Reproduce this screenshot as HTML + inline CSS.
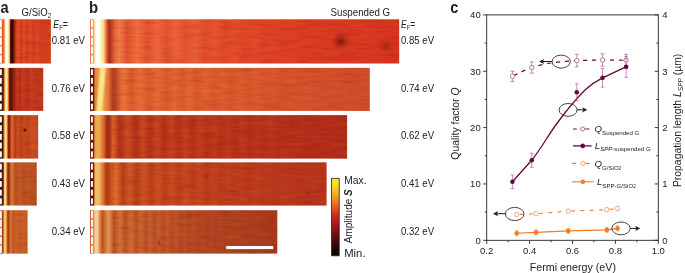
<!DOCTYPE html>
<html lang="en"><head><meta charset="utf-8"><title>Figure</title>
<style>html,body{margin:0;padding:0;background:#fff;}body{width:685px;height:273px;overflow:hidden;}svg{display:block;}text{font-family:"Liberation Sans",sans-serif;fill:#222;}</style></head><body>
<svg width="685" height="273" viewBox="0 0 685 273">
<defs><linearGradient id="ga0" gradientUnits="userSpaceOnUse" x1="0" y1="0" x2="50.9" y2="0"><stop offset="0.0000" stop-color="#ea5c2e"/><stop offset="0.0747" stop-color="#ea6030"/><stop offset="0.0904" stop-color="#f6b070"/><stop offset="0.1061" stop-color="#fdf0c0"/><stop offset="0.1257" stop-color="#fffef6"/><stop offset="0.1532" stop-color="#fffbe6"/><stop offset="0.1729" stop-color="#f8e088"/><stop offset="0.1866" stop-color="#f0a040"/><stop offset="0.1984" stop-color="#a03a12"/><stop offset="0.2122" stop-color="#3a0803"/><stop offset="0.2475" stop-color="#300602"/><stop offset="0.2672" stop-color="#6a1208"/><stop offset="0.2908" stop-color="#b02814"/><stop offset="0.3183" stop-color="#d23c1e"/><stop offset="0.3536" stop-color="#e25228"/><stop offset="0.4126" stop-color="#d03a1e"/><stop offset="0.4715" stop-color="#de4c26"/><stop offset="0.5305" stop-color="#d03a1e"/><stop offset="0.5894" stop-color="#dc4a24"/><stop offset="0.6582" stop-color="#d23c1f"/><stop offset="0.7269" stop-color="#da4623"/><stop offset="0.8055" stop-color="#d23c1f"/><stop offset="1.0020" stop-color="#d5401f"/></linearGradient><linearGradient id="ga1" gradientUnits="userSpaceOnUse" x1="0" y1="0" x2="43.25" y2="0"><stop offset="0.0000" stop-color="#4a1408"/><stop offset="0.0740" stop-color="#501608"/><stop offset="0.0925" stop-color="#b85a22"/><stop offset="0.1110" stop-color="#f2ac48"/><stop offset="0.1295" stop-color="#ffe288"/><stop offset="0.1480" stop-color="#fff0b8"/><stop offset="0.1665" stop-color="#ffe080"/><stop offset="0.1850" stop-color="#f2a040"/><stop offset="0.2035" stop-color="#c45a1e"/><stop offset="0.2197" stop-color="#6a160a"/><stop offset="0.2682" stop-color="#5a1208"/><stop offset="0.3006" stop-color="#8a1e0e"/><stop offset="0.3468" stop-color="#a82a14"/><stop offset="0.4046" stop-color="#c4381c"/><stop offset="0.4624" stop-color="#b42e18"/><stop offset="0.5318" stop-color="#c83c1e"/><stop offset="0.6243" stop-color="#b83019"/><stop offset="0.7168" stop-color="#c63a1d"/><stop offset="0.8324" stop-color="#bc341a"/><stop offset="0.9988" stop-color="#c2381c"/></linearGradient><linearGradient id="ga2" gradientUnits="userSpaceOnUse" x1="0" y1="0" x2="38.15" y2="0"><stop offset="0.0000" stop-color="#4a1408"/><stop offset="0.0786" stop-color="#501608"/><stop offset="0.0996" stop-color="#b86a2c"/><stop offset="0.1206" stop-color="#f2bc64"/><stop offset="0.1415" stop-color="#fbe0a0"/><stop offset="0.1678" stop-color="#f8d080"/><stop offset="0.1940" stop-color="#e07a28"/><stop offset="0.2202" stop-color="#8a1c0c"/><stop offset="0.2621" stop-color="#9a240e"/><stop offset="0.2988" stop-color="#d86a2a"/><stop offset="0.3408" stop-color="#d05a24"/><stop offset="0.3932" stop-color="#b83a18"/><stop offset="0.4718" stop-color="#cc5222"/><stop offset="0.5505" stop-color="#bc3e1a"/><stop offset="0.6291" stop-color="#c84c20"/><stop offset="0.7339" stop-color="#c04419"/><stop offset="0.8388" stop-color="#ca5022"/><stop offset="0.9961" stop-color="#c4481e"/></linearGradient><linearGradient id="ga3" gradientUnits="userSpaceOnUse" x1="0" y1="0" x2="36.75" y2="0"><stop offset="0.0000" stop-color="#4a1408"/><stop offset="0.0816" stop-color="#501608"/><stop offset="0.1034" stop-color="#a8602a"/><stop offset="0.1224" stop-color="#f0c890"/><stop offset="0.1524" stop-color="#f8e0b0"/><stop offset="0.1741" stop-color="#e89a48"/><stop offset="0.2014" stop-color="#b04a18"/><stop offset="0.2340" stop-color="#8a2a10"/><stop offset="0.2721" stop-color="#b85020"/><stop offset="0.3265" stop-color="#dc8238"/><stop offset="0.3673" stop-color="#c46228"/><stop offset="0.4354" stop-color="#b84e22"/><stop offset="0.5170" stop-color="#c25a26"/><stop offset="0.6259" stop-color="#b85022"/><stop offset="0.7619" stop-color="#be5626"/><stop offset="1.0041" stop-color="#b64e22"/></linearGradient><linearGradient id="ga4" gradientUnits="userSpaceOnUse" x1="0" y1="0" x2="27.6" y2="0"><stop offset="0.0000" stop-color="#b03a18"/><stop offset="0.1087" stop-color="#b84018"/><stop offset="0.1377" stop-color="#d88a40"/><stop offset="0.1667" stop-color="#f4cc80"/><stop offset="0.2101" stop-color="#f0c070"/><stop offset="0.2391" stop-color="#e08a38"/><stop offset="0.2754" stop-color="#b84a1c"/><stop offset="0.3261" stop-color="#a83c18"/><stop offset="0.3804" stop-color="#d47a34"/><stop offset="0.4348" stop-color="#c86028"/><stop offset="0.5072" stop-color="#c0541f"/><stop offset="0.5797" stop-color="#cc662a"/><stop offset="0.6884" stop-color="#c45a24"/><stop offset="0.8333" stop-color="#ca6228"/><stop offset="1.0000" stop-color="#c45a24"/></linearGradient><linearGradient id="gb0" gradientUnits="userSpaceOnUse" x1="90.0" y1="0" x2="399.2" y2="0"><stop offset="0.0000" stop-color="#ec6a34"/><stop offset="0.0097" stop-color="#f09050"/><stop offset="0.0129" stop-color="#f6b878"/><stop offset="0.0155" stop-color="#fbe4b4"/><stop offset="0.0188" stop-color="#fffdf4"/><stop offset="0.0259" stop-color="#ffffff"/><stop offset="0.0317" stop-color="#fffde8"/><stop offset="0.0362" stop-color="#fbf4b4"/><stop offset="0.0420" stop-color="#f8e69a"/><stop offset="0.0466" stop-color="#f6b868"/><stop offset="0.0517" stop-color="#ea7a40"/><stop offset="0.0569" stop-color="#c4442a"/><stop offset="0.0608" stop-color="#b2321c"/><stop offset="0.0666" stop-color="#b4341e"/><stop offset="0.0724" stop-color="#cc4c2a"/><stop offset="0.0783" stop-color="#e2603a"/><stop offset="0.0841" stop-color="#ea6e40"/><stop offset="0.0951" stop-color="#f27e48"/><stop offset="0.1197" stop-color="#df512e"/><stop offset="0.1530" stop-color="#f06e3f"/><stop offset="0.1863" stop-color="#e2522e"/><stop offset="0.2170" stop-color="#ee683b"/><stop offset="0.2477" stop-color="#e3522e"/><stop offset="0.2775" stop-color="#ec6438"/><stop offset="0.3072" stop-color="#e3512d"/><stop offset="0.3396" stop-color="#e95d34"/><stop offset="0.3719" stop-color="#e24c2b"/><stop offset="0.4035" stop-color="#e65530"/><stop offset="0.4350" stop-color="#e04728"/><stop offset="0.4665" stop-color="#e34e2c"/><stop offset="0.4981" stop-color="#de4326"/><stop offset="0.5296" stop-color="#e14829"/><stop offset="0.5611" stop-color="#dd4024"/><stop offset="0.5927" stop-color="#df4326"/><stop offset="0.6242" stop-color="#dc3d23"/><stop offset="0.6557" stop-color="#dd4024"/><stop offset="0.6873" stop-color="#db3b22"/><stop offset="1.0000" stop-color="#d63420"/></linearGradient><linearGradient id="gb1" gradientUnits="userSpaceOnUse" x1="90.0" y1="0" x2="369.8" y2="0"><stop offset="0.0000" stop-color="#4a1008"/><stop offset="0.0122" stop-color="#5a1609"/><stop offset="0.0150" stop-color="#b85426"/><stop offset="0.0197" stop-color="#e4803a"/><stop offset="0.0268" stop-color="#ec9444"/><stop offset="0.0340" stop-color="#f0a850"/><stop offset="0.0393" stop-color="#f2b458"/><stop offset="0.0465" stop-color="#f0a850"/><stop offset="0.0554" stop-color="#e88840"/><stop offset="0.0661" stop-color="#e07434"/><stop offset="0.0736" stop-color="#c85628"/><stop offset="0.0801" stop-color="#b44422"/><stop offset="0.0879" stop-color="#b04020"/><stop offset="0.0965" stop-color="#c45026"/><stop offset="0.1090" stop-color="#e06832"/><stop offset="0.1215" stop-color="#ea763c"/><stop offset="0.1465" stop-color="#d85a2a"/><stop offset="0.1780" stop-color="#e66f37"/><stop offset="0.2094" stop-color="#da5a2a"/><stop offset="0.2416" stop-color="#e46b36"/><stop offset="0.2738" stop-color="#da5a2a"/><stop offset="0.3013" stop-color="#e36933"/><stop offset="0.3288" stop-color="#da5a2b"/><stop offset="0.3556" stop-color="#e26532"/><stop offset="0.3824" stop-color="#da592a"/><stop offset="0.4128" stop-color="#e06231"/><stop offset="0.4432" stop-color="#da582b"/><stop offset="0.4736" stop-color="#df5f2f"/><stop offset="0.5039" stop-color="#d9562a"/><stop offset="0.5343" stop-color="#dc5d2e"/><stop offset="0.5647" stop-color="#d7552a"/><stop offset="0.5951" stop-color="#da5a2e"/><stop offset="0.6254" stop-color="#d75329"/><stop offset="0.6558" stop-color="#d9572c"/><stop offset="0.6862" stop-color="#d55129"/><stop offset="0.7166" stop-color="#d7552c"/><stop offset="0.7470" stop-color="#d4512a"/><stop offset="0.7773" stop-color="#d5532c"/><stop offset="0.8077" stop-color="#d3502a"/><stop offset="0.9993" stop-color="#d04c2a"/></linearGradient><linearGradient id="gb2" gradientUnits="userSpaceOnUse" x1="90.0" y1="0" x2="347.1" y2="0"><stop offset="0.0000" stop-color="#5a160a"/><stop offset="0.0132" stop-color="#6a1a0c"/><stop offset="0.0163" stop-color="#c86028"/><stop offset="0.0210" stop-color="#eca048"/><stop offset="0.0292" stop-color="#f0b050"/><stop offset="0.0389" stop-color="#eca048"/><stop offset="0.0482" stop-color="#e07e32"/><stop offset="0.0568" stop-color="#cc5824"/><stop offset="0.0638" stop-color="#aa3016"/><stop offset="0.0723" stop-color="#a02a14"/><stop offset="0.0793" stop-color="#b43a1a"/><stop offset="0.0887" stop-color="#d86428"/><stop offset="0.1151" stop-color="#af2e17"/><stop offset="0.1470" stop-color="#ca4c22"/><stop offset="0.1789" stop-color="#b22f17"/><stop offset="0.2058" stop-color="#c74720"/><stop offset="0.2326" stop-color="#b33018"/><stop offset="0.2606" stop-color="#c54420"/><stop offset="0.2886" stop-color="#b43018"/><stop offset="0.3162" stop-color="#c4411e"/><stop offset="0.3438" stop-color="#b53018"/><stop offset="0.3715" stop-color="#c23e1d"/><stop offset="0.3991" stop-color="#b53018"/><stop offset="0.4267" stop-color="#c03c1d"/><stop offset="0.4543" stop-color="#b53019"/><stop offset="0.4819" stop-color="#be391c"/><stop offset="0.5095" stop-color="#b53019"/><stop offset="0.5371" stop-color="#bc381c"/><stop offset="0.5648" stop-color="#b52f19"/><stop offset="0.5924" stop-color="#ba361c"/><stop offset="0.6200" stop-color="#b42f19"/><stop offset="0.6476" stop-color="#b9351b"/><stop offset="0.6752" stop-color="#b42f19"/><stop offset="0.7028" stop-color="#b9341b"/><stop offset="0.7305" stop-color="#b32e19"/><stop offset="0.7581" stop-color="#b7321b"/><stop offset="0.7857" stop-color="#b42e19"/><stop offset="0.8133" stop-color="#b6311b"/><stop offset="0.8409" stop-color="#b32d1a"/><stop offset="1.0016" stop-color="#b22c1a"/></linearGradient><linearGradient id="gb3" gradientUnits="userSpaceOnUse" x1="90.0" y1="0" x2="326.6" y2="0"><stop offset="0.0000" stop-color="#4a1008"/><stop offset="0.0144" stop-color="#5a1609"/><stop offset="0.0178" stop-color="#c87034"/><stop offset="0.0220" stop-color="#f0b060"/><stop offset="0.0317" stop-color="#f4c070"/><stop offset="0.0423" stop-color="#eeac58"/><stop offset="0.0490" stop-color="#e2903e"/><stop offset="0.0558" stop-color="#da7630"/><stop offset="0.0626" stop-color="#c4521f"/><stop offset="0.0697" stop-color="#b03c18"/><stop offset="0.0786" stop-color="#b44018"/><stop offset="0.0909" stop-color="#c8541f"/><stop offset="0.1099" stop-color="#da6e2e"/><stop offset="0.1378" stop-color="#b93d1a"/><stop offset="0.1672" stop-color="#cf5926"/><stop offset="0.1965" stop-color="#bb3d1a"/><stop offset="0.2280" stop-color="#cc5424"/><stop offset="0.2595" stop-color="#bc3d1b"/><stop offset="0.2876" stop-color="#ca5023"/><stop offset="0.3157" stop-color="#bc3d1a"/><stop offset="0.3453" stop-color="#c74c21"/><stop offset="0.3749" stop-color="#bc3c1b"/><stop offset="0.4045" stop-color="#c64820"/><stop offset="0.4341" stop-color="#bc3b1b"/><stop offset="0.4637" stop-color="#c4461f"/><stop offset="0.4932" stop-color="#bc3b1b"/><stop offset="0.5228" stop-color="#c1421f"/><stop offset="0.5524" stop-color="#bb3a1b"/><stop offset="0.5820" stop-color="#c0401e"/><stop offset="0.6116" stop-color="#ba391b"/><stop offset="0.6412" stop-color="#be3e1e"/><stop offset="0.6708" stop-color="#ba381c"/><stop offset="0.7003" stop-color="#bd3c1e"/><stop offset="0.7299" stop-color="#b9381c"/><stop offset="0.7595" stop-color="#bb3b1d"/><stop offset="0.7891" stop-color="#b8371c"/><stop offset="0.8187" stop-color="#bb3a1d"/><stop offset="0.8483" stop-color="#b7361c"/><stop offset="1.0000" stop-color="#b6341c"/></linearGradient><linearGradient id="gb4" gradientUnits="userSpaceOnUse" x1="90.0" y1="0" x2="277.3" y2="0"><stop offset="0.0000" stop-color="#c04a20"/><stop offset="0.0160" stop-color="#cc6a34"/><stop offset="0.0214" stop-color="#e8a868"/><stop offset="0.0294" stop-color="#f4d0a0"/><stop offset="0.0400" stop-color="#f4cc98"/><stop offset="0.0481" stop-color="#e8a060"/><stop offset="0.0566" stop-color="#d4743a"/><stop offset="0.0662" stop-color="#bc5022"/><stop offset="0.0801" stop-color="#cc7034"/><stop offset="0.0988" stop-color="#e09450"/><stop offset="0.1297" stop-color="#b85023"/><stop offset="0.1596" stop-color="#d1733b"/><stop offset="0.1895" stop-color="#b95023"/><stop offset="0.2184" stop-color="#cd6b36"/><stop offset="0.2472" stop-color="#ba5024"/><stop offset="0.2731" stop-color="#ca6532"/><stop offset="0.2990" stop-color="#ba4f24"/><stop offset="0.3209" stop-color="#c66030"/><stop offset="0.3428" stop-color="#b94e23"/><stop offset="0.3663" stop-color="#c35c2d"/><stop offset="0.3897" stop-color="#b74c22"/><stop offset="0.4132" stop-color="#bf572b"/><stop offset="0.4367" stop-color="#b64b22"/><stop offset="0.4602" stop-color="#bd5429"/><stop offset="0.4837" stop-color="#b44821"/><stop offset="0.5072" stop-color="#b95027"/><stop offset="0.5307" stop-color="#b24620"/><stop offset="0.5542" stop-color="#b64c25"/><stop offset="0.5777" stop-color="#b0451f"/><stop offset="0.6012" stop-color="#b44923"/><stop offset="0.6247" stop-color="#af4320"/><stop offset="0.6482" stop-color="#b24722"/><stop offset="0.6716" stop-color="#ae421f"/><stop offset="0.6951" stop-color="#b04521"/><stop offset="0.7186" stop-color="#ad411f"/><stop offset="0.7421" stop-color="#ae4320"/><stop offset="0.7656" stop-color="#ac401e"/><stop offset="0.7891" stop-color="#ad4220"/><stop offset="0.8126" stop-color="#ab3f1e"/><stop offset="1.0000" stop-color="#a63a1c"/></linearGradient><linearGradient id="yb" gradientUnits="userSpaceOnUse" x1="99" y1="0" x2="108" y2="0"><stop offset="0" stop-color="#f6dc78" stop-opacity="0"/><stop offset="0.28" stop-color="#f8e888" stop-opacity="0.95"/><stop offset="0.62" stop-color="#f8e888" stop-opacity="0.95"/><stop offset="1" stop-color="#f0b050" stop-opacity="0"/></linearGradient><clipPath id="rowsclip"><rect x="15" y="19.3" width="35.9" height="44.2"/><rect x="112.0" y="19.3" width="287.2" height="44.2"/><rect x="15" y="67.9" width="28.2" height="43.0"/><rect x="112.0" y="67.9" width="257.8" height="43.0"/><rect x="15" y="115.1" width="23.1" height="43.5"/><rect x="112.0" y="115.1" width="235.1" height="43.5"/><rect x="15" y="162.35" width="21.8" height="43.2"/><rect x="112.0" y="162.35" width="214.6" height="43.2"/><rect x="15" y="210.2" width="12.6" height="43.4"/><rect x="112.0" y="210.2" width="165.3" height="43.4"/></clipPath><filter id="nzd" x="0" y="0" width="100%" height="100%" color-interpolation-filters="sRGB"><feTurbulence type="fractalNoise" baseFrequency="0.05 0.3" numOctaves="2" seed="7"/><feColorMatrix type="matrix" values="0 0 0 0 0.45  0 0 0 0 0.06  0 0 0 0 0.02  1.6 0 0 0 -0.72"/></filter><filter id="nzl" x="0" y="0" width="100%" height="100%" color-interpolation-filters="sRGB"><feTurbulence type="fractalNoise" baseFrequency="0.04 0.28" numOctaves="2" seed="21"/><feColorMatrix type="matrix" values="0 0 0 0 0.98  0 0 0 0 0.5  0 0 0 0 0.25  0 1.5 0 0 -0.68"/></filter><radialGradient id="spot"><stop offset="0" stop-color="#7c140a" stop-opacity="0.9"/><stop offset="0.4" stop-color="#8c1a0c" stop-opacity="0.55"/><stop offset="1" stop-color="#a02010" stop-opacity="0"/></radialGradient><linearGradient id="cb" x1="0" y1="0" x2="0" y2="1"><stop offset="0" stop-color="#f7ec2c"/><stop offset="0.08" stop-color="#f6de24"/><stop offset="0.2" stop-color="#f2ae20"/><stop offset="0.33" stop-color="#e87420"/><stop offset="0.47" stop-color="#d02c20"/><stop offset="0.62" stop-color="#9c1616"/><stop offset="0.8" stop-color="#4c0c0c"/><stop offset="0.93" stop-color="#180606"/><stop offset="1" stop-color="#0a0404"/></linearGradient></defs>
<rect x="0" y="19.3" width="50.9" height="44.2" fill="url(#ga0)"/>
<rect x="0" y="67.9" width="43.25" height="43.0" fill="url(#ga1)"/>
<rect x="0" y="115.1" width="38.15" height="43.5" fill="url(#ga2)"/>
<rect x="0" y="162.35" width="36.75" height="43.2" fill="url(#ga3)"/>
<rect x="0" y="210.2" width="27.6" height="43.4" fill="url(#ga4)"/>
<rect x="90.0" y="19.3" width="309.2" height="44.2" fill="url(#gb0)"/>
<rect x="90.0" y="67.9" width="279.8" height="43.0" fill="url(#gb1)"/>
<rect x="90.0" y="115.1" width="257.1" height="43.5" fill="url(#gb2)"/>
<rect x="90.0" y="162.35" width="236.6" height="43.2" fill="url(#gb3)"/>
<rect x="90.0" y="210.2" width="187.3" height="43.4" fill="url(#gb4)"/>
<g transform="translate(0,67.9) skewX(-5.2)"><rect x="99" y="0" width="9" height="43.0" fill="url(#yb)"/></g>
<g clip-path="url(#rowsclip)"><rect x="0" y="15" width="402" height="242" filter="url(#nzd)" opacity="0.26"/><rect x="0" y="15" width="402" height="242" filter="url(#nzl)" opacity="0.22"/></g>
<rect x="0" y="19.90" width="1.8" height="43.00" fill="#ffffff"/><rect x="0" y="27.44" width="1.8" height="1.4" fill="#f07a48"/><rect x="0" y="36.28" width="1.8" height="1.4" fill="#f07a48"/><rect x="0" y="45.12" width="1.8" height="1.4" fill="#f07a48"/><rect x="0" y="53.96" width="1.8" height="1.4" fill="#f07a48"/>
<rect x="90.9" y="19.90" width="2.0" height="43.00" fill="#ffffff"/><rect x="90.9" y="27.44" width="2.0" height="1.4" fill="#f07a48"/><rect x="90.9" y="36.28" width="2.0" height="1.4" fill="#f07a48"/><rect x="90.9" y="45.12" width="2.0" height="1.4" fill="#f07a48"/><rect x="90.9" y="53.96" width="2.0" height="1.4" fill="#f07a48"/>
<rect x="0" y="69.28" width="1.8" height="5.85" fill="#ffffff"/><rect x="0" y="77.88" width="1.8" height="5.85" fill="#ffffff"/><rect x="0" y="86.48" width="1.8" height="5.85" fill="#ffffff"/><rect x="0" y="95.08" width="1.8" height="5.85" fill="#ffffff"/><rect x="0" y="103.68" width="1.8" height="5.85" fill="#ffffff"/>
<rect x="90.9" y="69.28" width="2.0" height="5.85" fill="#ffffff"/><rect x="90.9" y="77.88" width="2.0" height="5.85" fill="#ffffff"/><rect x="90.9" y="86.48" width="2.0" height="5.85" fill="#ffffff"/><rect x="90.9" y="95.08" width="2.0" height="5.85" fill="#ffffff"/><rect x="90.9" y="103.68" width="2.0" height="5.85" fill="#ffffff"/>
<rect x="0" y="116.49" width="1.8" height="5.92" fill="#ffffff"/><rect x="0" y="125.19" width="1.8" height="5.92" fill="#ffffff"/><rect x="0" y="133.89" width="1.8" height="5.92" fill="#ffffff"/><rect x="0" y="142.59" width="1.8" height="5.92" fill="#ffffff"/><rect x="0" y="151.29" width="1.8" height="5.92" fill="#ffffff"/>
<rect x="90.9" y="116.49" width="2.0" height="5.92" fill="#ffffff"/><rect x="90.9" y="125.19" width="2.0" height="5.92" fill="#ffffff"/><rect x="90.9" y="133.89" width="2.0" height="5.92" fill="#ffffff"/><rect x="90.9" y="142.59" width="2.0" height="5.92" fill="#ffffff"/><rect x="90.9" y="151.29" width="2.0" height="5.92" fill="#ffffff"/>
<rect x="0" y="163.73" width="1.8" height="5.88" fill="#ffffff"/><rect x="0" y="172.38" width="1.8" height="5.88" fill="#ffffff"/><rect x="0" y="181.03" width="1.8" height="5.88" fill="#ffffff"/><rect x="0" y="189.68" width="1.8" height="5.88" fill="#ffffff"/><rect x="0" y="198.33" width="1.8" height="5.88" fill="#ffffff"/>
<rect x="90.9" y="163.73" width="2.0" height="5.88" fill="#ffffff"/><rect x="90.9" y="172.38" width="2.0" height="5.88" fill="#ffffff"/><rect x="90.9" y="181.03" width="2.0" height="5.88" fill="#ffffff"/><rect x="90.9" y="189.68" width="2.0" height="5.88" fill="#ffffff"/><rect x="90.9" y="198.33" width="2.0" height="5.88" fill="#ffffff"/>
<rect x="0" y="210.80" width="1.8" height="42.20" fill="#ffffff"/><rect x="0" y="218.18" width="1.8" height="1.4" fill="#cc6a38"/><rect x="0" y="226.86" width="1.8" height="1.4" fill="#cc6a38"/><rect x="0" y="235.54" width="1.8" height="1.4" fill="#cc6a38"/><rect x="0" y="244.22" width="1.8" height="1.4" fill="#cc6a38"/>
<rect x="90.9" y="210.80" width="2.0" height="42.20" fill="#ffffff"/><rect x="90.9" y="218.18" width="2.0" height="1.4" fill="#cc6a38"/><rect x="90.9" y="226.86" width="2.0" height="1.4" fill="#cc6a38"/><rect x="90.9" y="235.54" width="2.0" height="1.4" fill="#cc6a38"/><rect x="90.9" y="244.22" width="2.0" height="1.4" fill="#cc6a38"/>
<ellipse cx="340.5" cy="41.5" rx="9.5" ry="9.5" fill="url(#spot)"/>
<ellipse cx="385.5" cy="45.5" rx="8.5" ry="7.5" fill="url(#spot)" opacity="0.5"/>
<ellipse cx="25" cy="130" rx="1.6" ry="1.4" fill="#3a0a04" opacity="0.8"/>
<ellipse cx="159" cy="243" rx="3" ry="4" fill="url(#spot)" opacity="0.6"/>
<ellipse cx="206" cy="177" rx="3.2" ry="3.8" fill="url(#spot)" opacity="0.5"/>
<ellipse cx="308" cy="193" rx="3.5" ry="3" fill="url(#spot)" opacity="0.35"/>
<rect x="226.2" y="246" width="47" height="3.1" fill="#ffffff"/>
<rect x="331.6" y="178.3" width="7.6" height="77.5" fill="url(#cb)" stroke="#222" stroke-width="0.8"/>
<text transform="translate(0.6,12.8) scale(0.86,1)" font-size="17" font-weight="bold" fill="#111">a</text>
<text transform="translate(88.9,12.6) scale(0.88,1)" font-size="17" font-weight="bold" fill="#111">b</text>
<text transform="translate(450.2,12.8) scale(0.86,1)" font-size="17" font-weight="bold" fill="#111">c</text>
<text transform="translate(21.5,15.9) scale(0.96,1)" font-size="10" >G/SiO<tspan font-size="6.8" dy="2.2">2</tspan></text>
<text transform="translate(330.6,15.9) scale(0.975,1)" font-size="10" >Suspended G</text>
<text transform="translate(53.3,27.9) scale(0.88,1)" font-size="10" ><tspan font-style="italic">E</tspan><tspan font-size="6.8" dy="2.3">F</tspan><tspan dy="-2.3">=</tspan></text>
<text transform="translate(400.9,27.9) scale(0.86,1)" font-size="10" ><tspan font-style="italic">E</tspan><tspan font-size="6.8" dy="2.3">F</tspan><tspan dy="-2.3">=</tspan></text>
<text transform="translate(51.8,44.1) scale(0.965,1)" font-size="10" >0.81 eV</text>
<text transform="translate(51.8,91.5) scale(0.965,1)" font-size="10" >0.76 eV</text>
<text transform="translate(51.8,139.0) scale(0.965,1)" font-size="10" >0.58 eV</text>
<text transform="translate(51.8,186.9) scale(0.965,1)" font-size="10" >0.43 eV</text>
<text transform="translate(51.8,234.5) scale(0.965,1)" font-size="10" >0.34 eV</text>
<text transform="translate(400.9,44.1) scale(0.965,1)" font-size="10" >0.85 eV</text>
<text transform="translate(400.9,91.5) scale(0.965,1)" font-size="10" >0.74 eV</text>
<text transform="translate(400.9,139.0) scale(0.965,1)" font-size="10" >0.62 eV</text>
<text transform="translate(400.9,186.9) scale(0.965,1)" font-size="10" >0.41 eV</text>
<text transform="translate(400.9,234.5) scale(0.965,1)" font-size="10" >0.32 eV</text>
<text transform="translate(344.2,184.4) scale(1.03,1)" font-size="10" >Max.</text>
<text transform="translate(344.2,256.6) scale(1.13,1)" font-size="10" >Min.</text>
<text transform="translate(352,243.2) rotate(-90)" font-size="10">Amplitude <tspan font-style="italic" font-weight="bold">S</tspan></text>
<rect x="486.7" y="14.9" width="171.59999999999997" height="225.4" fill="none" stroke="#222" stroke-width="0.9"/>
<path d="M483.09999999999997,240.30H486.7M658.3,240.30h-3.6" stroke="#222" stroke-width="0.9"/>
<path d="M484.7,212.12H486.7M658.3,212.12h-2" stroke="#222" stroke-width="0.9"/>
<path d="M483.09999999999997,183.95H486.7M658.3,183.95h-3.6" stroke="#222" stroke-width="0.9"/>
<path d="M484.7,155.78H486.7M658.3,155.78h-2" stroke="#222" stroke-width="0.9"/>
<path d="M483.09999999999997,127.60H486.7M658.3,127.60h-3.6" stroke="#222" stroke-width="0.9"/>
<path d="M484.7,99.43H486.7M658.3,99.43h-2" stroke="#222" stroke-width="0.9"/>
<path d="M483.09999999999997,71.25H486.7M658.3,71.25h-3.6" stroke="#222" stroke-width="0.9"/>
<path d="M484.7,43.08H486.7M658.3,43.08h-2" stroke="#222" stroke-width="0.9"/>
<path d="M483.09999999999997,14.90H486.7M658.3,14.90h-3.6" stroke="#222" stroke-width="0.9"/>
<path d="M486.70,240.3v3.6" stroke="#222" stroke-width="0.9"/>
<path d="M508.15,240.3v2" stroke="#222" stroke-width="0.9"/>
<path d="M529.60,240.3v3.6" stroke="#222" stroke-width="0.9"/>
<path d="M551.05,240.3v2" stroke="#222" stroke-width="0.9"/>
<path d="M572.50,240.3v3.6" stroke="#222" stroke-width="0.9"/>
<path d="M593.95,240.3v2" stroke="#222" stroke-width="0.9"/>
<path d="M615.40,240.3v3.6" stroke="#222" stroke-width="0.9"/>
<path d="M636.85,240.3v2" stroke="#222" stroke-width="0.9"/>
<path d="M658.30,240.3v3.6" stroke="#222" stroke-width="0.9"/>
<text x="480.7" y="243.7" font-size="9.5" text-anchor="end">0</text>
<text x="662.1999999999999" y="243.7" font-size="9.5">0</text>
<text x="480.7" y="187.4" font-size="9.5" text-anchor="end">10</text>
<text x="662.1999999999999" y="187.4" font-size="9.5">1</text>
<text x="480.7" y="131.0" font-size="9.5" text-anchor="end">20</text>
<text x="662.1999999999999" y="131.0" font-size="9.5">2</text>
<text x="480.7" y="74.7" font-size="9.5" text-anchor="end">30</text>
<text x="662.1999999999999" y="74.7" font-size="9.5">3</text>
<text x="480.7" y="18.3" font-size="9.5" text-anchor="end">40</text>
<text x="662.1999999999999" y="18.3" font-size="9.5">4</text>
<text x="486.7" y="253.9" font-size="9.5" text-anchor="middle">0.2</text>
<text x="529.6" y="253.9" font-size="9.5" text-anchor="middle">0.4</text>
<text x="572.5" y="253.9" font-size="9.5" text-anchor="middle">0.6</text>
<text x="615.4" y="253.9" font-size="9.5" text-anchor="middle">0.8</text>
<text x="658.3" y="253.9" font-size="9.5" text-anchor="middle">1.0</text>
<text x="572.9" y="270.5" font-size="10.7" text-anchor="middle">Fermi energy (eV)</text>
<text transform="translate(458.6,123.6) rotate(-90)" font-size="10.4" text-anchor="middle">Quality factor <tspan font-style="italic">Q</tspan></text>
<text transform="translate(681,120.4) rotate(-90)" font-size="10.4" text-anchor="middle">Propagation length <tspan font-style="italic">L</tspan><tspan font-size="6.5" font-style="italic" dy="2">SPP</tspan><tspan dy="-2"> (µm)</tspan></text>
<path d="M512.4,76.3 C520.4,72.3 523.7,70.7 531.7,67.5 C545.7,63.0 560.8,61.5 576.8,60.5 L602.5,60.0 L626.1,60.3" fill="none" stroke="#66093f" stroke-width="1.2" stroke-dasharray="4.2,4.8" stroke-dashoffset="7.86"/>
<path d="M512.44,71.25V81.40M510.44,71.25h4.0M510.44,81.40h4.0" stroke="#a04684" stroke-width="0.6" fill="none"/>
<circle cx="512.44" cy="76.32" r="2.2" fill="#fff" stroke="#a04684" stroke-width="0.7"/>
<path d="M531.75,61.89V73.17M529.75,61.89h4.0M529.75,73.17h4.0" stroke="#a04684" stroke-width="0.6" fill="none"/>
<circle cx="531.75" cy="67.53" r="2.2" fill="#fff" stroke="#a04684" stroke-width="0.7"/>
<path d="M576.79,54.34V66.75M574.79,54.34h4.0M574.79,66.75h4.0" stroke="#a04684" stroke-width="0.6" fill="none"/>
<circle cx="576.79" cy="60.54" r="2.2" fill="#fff" stroke="#a04684" stroke-width="0.7"/>
<path d="M602.53,53.78V66.18M600.53,53.78h4.0M600.53,66.18h4.0" stroke="#a04684" stroke-width="0.6" fill="none"/>
<circle cx="602.53" cy="59.98" r="2.2" fill="#fff" stroke="#a04684" stroke-width="0.7"/>
<path d="M626.12,54.34V66.18M624.12,54.34h4.0M624.12,66.18h4.0" stroke="#a04684" stroke-width="0.6" fill="none"/>
<circle cx="626.12" cy="60.26" r="2.2" fill="#fff" stroke="#a04684" stroke-width="0.7"/>
<path d="M512.4,181.8 L531.7,160.3 C541.7,147.8 548,135.5 555.8,125 C563,115 576,99 585,90 C592,83.5 597,80.5 602.5,77.8 C611,74 618,70.5 626.1,66.9" fill="none" stroke="#66093f" stroke-width="1.3"/>
<path d="M512.44,174.98V188.52M510.64,174.98h3.6M510.64,188.52h3.6" stroke="#a04684" stroke-width="0.6" fill="none"/>
<circle cx="512.44" cy="181.75" r="2.3" fill="#66093f"/>
<path d="M531.75,153.23V167.33M529.95,153.23h3.6M529.95,167.33h3.6" stroke="#a04684" stroke-width="0.6" fill="none"/>
<circle cx="531.75" cy="160.28" r="2.3" fill="#66093f"/>
<path d="M576.79,83.75V100.67M574.99,83.75h3.6M574.99,100.67h3.6" stroke="#a04684" stroke-width="0.6" fill="none"/>
<circle cx="576.79" cy="92.21" r="2.3" fill="#66093f"/>
<path d="M602.53,68.54V87.15M600.73,68.54h3.6M600.73,87.15h3.6" stroke="#a04684" stroke-width="0.6" fill="none"/>
<circle cx="602.53" cy="77.84" r="2.3" fill="#66093f"/>
<path d="M626.12,56.42V77.29M624.33,56.42h3.6M624.33,77.29h3.6" stroke="#a04684" stroke-width="0.6" fill="none"/>
<circle cx="626.12" cy="66.85" r="2.3" fill="#66093f"/>
<path d="M519.63,214.39L533.14,213.92" fill="none" stroke="#f47b20" stroke-width="1.1" stroke-dasharray="4,5.3"/>
<path d="M538.92,213.57L565.32,211.35" fill="none" stroke="#f47b20" stroke-width="1.1" stroke-dasharray="4,5.3"/>
<path d="M571.11,211.00L603.92,209.81" fill="none" stroke="#f47b20" stroke-width="1.1" stroke-dasharray="4,5.3"/>
<path d="M609.70,209.40L614.66,208.88" fill="none" stroke="#f47b20" stroke-width="1.1" stroke-dasharray="4,5.3"/>
<path d="M516.7,233.2 L536.0,232.4 L568.2,230.9 L606.8,229.9 L617.5,228.4" fill="none" stroke="#f47b20" stroke-width="1.1"/>
<path d="M516.73,212.89V216.09M515.33,212.89h2.8M515.33,216.09h2.8" stroke="#f08a50" stroke-width="0.6" fill="none"/>
<circle cx="516.73" cy="214.49" r="2.2" fill="#fff" stroke="#f08a50" stroke-width="0.7"/>
<path d="M536.03,212.22V215.42M534.63,212.22h2.8M534.63,215.42h2.8" stroke="#f08a50" stroke-width="0.6" fill="none"/>
<circle cx="536.03" cy="213.82" r="2.2" fill="#fff" stroke="#f08a50" stroke-width="0.7"/>
<path d="M568.21,209.51V212.71M566.81,209.51h2.8M566.81,212.71h2.8" stroke="#f08a50" stroke-width="0.6" fill="none"/>
<circle cx="568.21" cy="211.11" r="2.2" fill="#fff" stroke="#f08a50" stroke-width="0.7"/>
<path d="M606.82,208.10V211.30M605.42,208.10h2.8M605.42,211.30h2.8" stroke="#f08a50" stroke-width="0.6" fill="none"/>
<circle cx="606.82" cy="209.70" r="2.2" fill="#fff" stroke="#f08a50" stroke-width="0.7"/>
<path d="M617.54,206.97V210.17M616.14,206.97h2.8M616.14,210.17h2.8" stroke="#f08a50" stroke-width="0.6" fill="none"/>
<circle cx="617.54" cy="208.57" r="2.2" fill="#fff" stroke="#f08a50" stroke-width="0.7"/>
<path d="M516.73,230.60V235.80M515.13,230.60h3.2M515.13,235.80h3.2" stroke="#f08a50" stroke-width="0.6" fill="none"/>
<circle cx="516.73" cy="233.20" r="2.3" fill="#f47b20"/>
<path d="M536.03,229.81V235.01M534.43,229.81h3.2M534.43,235.01h3.2" stroke="#f08a50" stroke-width="0.6" fill="none"/>
<circle cx="536.03" cy="232.41" r="2.3" fill="#f47b20"/>
<path d="M568.21,228.29V233.49M566.61,228.29h3.2M566.61,233.49h3.2" stroke="#f08a50" stroke-width="0.6" fill="none"/>
<circle cx="568.21" cy="230.89" r="2.3" fill="#f47b20"/>
<path d="M606.82,227.28V232.48M605.22,227.28h3.2M605.22,232.48h3.2" stroke="#f08a50" stroke-width="0.6" fill="none"/>
<circle cx="606.82" cy="229.88" r="2.3" fill="#f47b20"/>
<path d="M617.54,225.81V231.01M615.94,225.81h3.2M615.94,231.01h3.2" stroke="#f08a50" stroke-width="0.6" fill="none"/>
<circle cx="617.54" cy="228.41" r="2.3" fill="#f47b20"/>
<ellipse cx="561.2" cy="61.6" rx="9.1" ry="6.5" fill="none" stroke="#222" stroke-width="0.85"/>
<path d="M552.2,61.5H542.0" stroke="#1a1a1a" stroke-width="1" fill="none"/><path d="M539.0,61.5L544.2,58.9L542.8000000000001,61.5L544.2,64.1Z" fill="#1a1a1a"/>
<ellipse cx="568.1" cy="109.9" rx="9" ry="6.4" fill="none" stroke="#222" stroke-width="0.85"/>
<path d="M577.1,109.8H584.3" stroke="#1a1a1a" stroke-width="1" fill="none"/><path d="M587.3,109.8L582.0999999999999,107.2L583.4999999999999,109.8L582.0999999999999,112.39999999999999Z" fill="#1a1a1a"/>
<ellipse cx="514.7" cy="214" rx="9.3" ry="6.6" fill="none" stroke="#222" stroke-width="0.85"/>
<path d="M505.4,213.7H496.0" stroke="#1a1a1a" stroke-width="1" fill="none"/><path d="M493.0,213.7L498.2,211.1L496.8,213.7L498.2,216.29999999999998Z" fill="#1a1a1a"/>
<ellipse cx="621" cy="228.4" rx="9.2" ry="6.4" fill="none" stroke="#222" stroke-width="0.85"/>
<path d="M630.2,228.4H637.3" stroke="#1a1a1a" stroke-width="1" fill="none"/><path d="M640.3,228.4L635.0999999999999,225.8L636.4999999999999,228.4L635.0999999999999,231.0Z" fill="#1a1a1a"/>
<path d="M573.1,129.0H576.8M585.5,129.0H589.3" stroke="#66093f" stroke-width="1.2"/>
<circle cx="582.7" cy="129.0" r="2" fill="#fff" stroke="#a04684" stroke-width="0.8"/>
<path d="M573.1,145.9H591.7" stroke="#66093f" stroke-width="1.3"/>
<circle cx="582.7" cy="145.9" r="2.3" fill="#66093f"/>
<path d="M572,163.4H576M585.5,163.4H589.6" stroke="#f47b20" stroke-width="1.1"/>
<circle cx="582.9000000000001" cy="163.4" r="2" fill="#fff" stroke="#f08a50" stroke-width="0.8"/>
<path d="M572,181.8H593.6" stroke="#f47b20" stroke-width="1.1"/>
<circle cx="582.9000000000001" cy="181.8" r="2.2" fill="#f47b20"/>
<text x="594.6" y="131.9" font-size="9.6"><tspan font-style="italic">Q</tspan><tspan font-size="6.1" dy="2.6">Suspended G</tspan></text>
<text x="594.8" y="148.8" font-size="9.6"><tspan font-style="italic">L</tspan><tspan font-size="6.1" dy="2.6"><tspan font-style="italic">SPP</tspan>-suspended G</tspan></text>
<text x="594.6" y="166.7" font-size="9.6"><tspan font-style="italic">Q</tspan><tspan font-size="6.1" dy="3.4">G/SiO<tspan font-size="4.6">2</tspan></tspan></text>
<text x="597.0" y="184.6" font-size="9.6"><tspan font-style="italic">L</tspan><tspan font-size="6.1" dy="3.3">SPP-G/SiO<tspan font-size="4.6">2</tspan></tspan></text>
</svg></body></html>
